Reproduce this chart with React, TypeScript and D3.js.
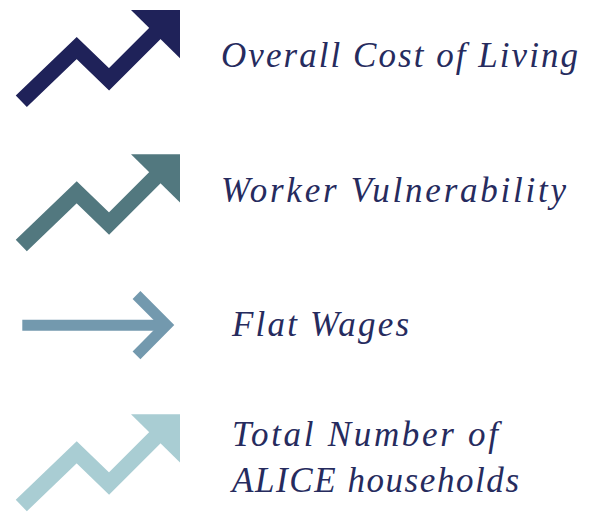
import React from "react";
import * as d3 from "d3";

// ---- content ----
const labels: string[][] = [
  ["Overall Cost of Living"],
  ["Worker Vulnerability"],
  ["Flat Wages"],
  ["Total Number of", "ALICE households"],
];
const iconKinds: string[] = ["rising", "rising", "flat", "rising"];
const iconColors: string[] = ["#1f2259", "#52787f", "#7399ae", "#a9cdd3"];
const textColor = "#262b5e";

// ---- layout ----
const W = 589;
const H = 519;
const rowOffsets = [0, 144.3, 267, 404.3];
const textX = [221, 221, 232, 232];
const textBaselines = [[67], [202], [336], [446, 492]];
const textWidths = [[357], [345], [177], [266, 287]];
const fontSize = 35;

// icon templates (local coordinates)
const risingLine: [number, number][] = [
  [21.3, 101.2],
  [76.7, 48],
  [109, 79.3],
  [170, 18.3],
];
const risingHead: [number, number][] = [
  [131, 10],
  [180, 10],
  [180, 58.3],
];
const flatShaft: [number, number][] = [
  [22.3, 58.2],
  [166, 58.2],
];
const flatChevron: [number, number][] = [
  [136.5, 28],
  [166.5, 58],
  [136.5, 88.3],
];

const line = d3.line<[number, number]>().x((d) => d[0]).y((d) => d[1]);

function Icon({ kind, color, dy }: { kind: string; color: string; dy: number }) {
  if (kind === "rising") {
    return (
      <g transform={`translate(0,${dy})`}>
        <path
          d={line(risingLine) || ""}
          fill="none"
          stroke={color}
          strokeWidth={16}
          strokeLinejoin="miter"
          strokeLinecap="butt"
        />
        <path d={(line(risingHead) || "") + "Z"} fill={color} />
      </g>
    );
  }
  return (
    <g transform={`translate(0,${dy})`}>
      <path d={line(flatShaft) || ""} fill="none" stroke={color} strokeWidth={11} />
      <path
        d={line(flatChevron) || ""}
        fill="none"
        stroke={color}
        strokeWidth={11}
        strokeLinejoin="miter"
        strokeLinecap="butt"
      />
    </g>
  );
}

export default function App() {
  return (
    <svg
      width={W}
      height={H}
      style={{ position: "absolute", left: 0, top: 0, background: "#fff" }}
    >
      {labels.map((lines, i) => (
        <g key={i}>
          <Icon kind={iconKinds[i]} color={iconColors[i]} dy={rowOffsets[i]} />
          {lines.map((t, j) => (
            <text
              key={j}
              x={textX[i]}
              y={textBaselines[i][j]}
              fill={textColor}
              fontFamily="'Liberation Serif', serif"
              fontStyle="italic"
              fontSize={fontSize}
              textLength={textWidths[i][j]}
              lengthAdjust="spacing"
            >
              {t}
            </text>
          ))}
        </g>
      ))}
    </svg>
  );
}
